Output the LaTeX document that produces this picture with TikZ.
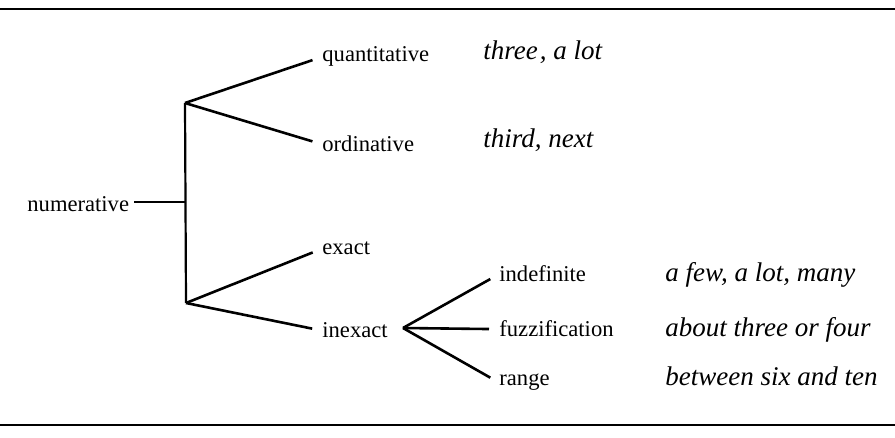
\documentclass[tikz,border=0pt]{standalone}
\usepackage{fontspec}
\setmainfont{Liberation Serif}
\usepackage{tikz}
\usetikzlibrary{positioning}

\begin{document}
\begin{tikzpicture}[
  x=0.5pt,y=-0.5pt,
  term/.style={anchor=base west,inner sep=0pt,font=\fontsize{11.3}{13}\selectfont},
  sample/.style={anchor=base west,inner sep=0pt,font=\fontsize{13.5}{16}\selectfont\itshape},
  branch/.style={draw=black,line width=1.3pt,shorten >=5pt},
  rule/.style={draw=black,line width=1.2pt}
]
\useasboundingbox (0,0) rectangle (895,438);
\draw[rule] (0,9) -- (895,9);
\draw[rule] (0,425) -- (895,425);

\node[term] (numer) at (27,212) {numerative};
\node[term] (quant) at (322,62) {quantitative};
\node[term] (ordin) at (322,152) {ordinative};
\node[term] (exact) at (322,255) {exact};
\node[term] (inexact) at (322,338) {inexact};
\node[term] (indef) at (499,282) {indefinite};
\node[term] (fuzz) at (499,337) {fuzzification};
\node[term] (range) at (499,386) {range};

\node[sample] (quantex) at (483,60) {three\kern1pt, a lot};
\node[sample] (ordinex) at (483,148) {third, next};
\node[sample] (indefex) at (665,282) {a few, a lot, many};
\node[sample] (fuzzex) at (665,337) {about three or four};
\node[sample] (rangeex) at (665,386) {between six and ten};

\coordinate (root) at (185,202);
\coordinate (upper) at (185,103);
\coordinate (lower) at (186,303);
\coordinate (split) at (403,328);

\draw[branch,line width=1.1pt,shorten >=0pt,shorten <=2.5pt] (numer.east|-root) -- (root);
\draw[branch,line width=1.1pt,shorten >=0pt] (upper) -- (lower);
\draw[branch] (upper) -- (quant.west);
\draw[branch] (upper) -- (ordin.west);
\draw[branch] (lower) -- (exact.west);
\draw[branch] (lower) -- (inexact.west);
\draw[branch] (split) -- (indef.west);
\draw[branch] (split) -- (fuzz.west);
\draw[branch] (split) -- (range.west);
\end{tikzpicture}
\end{document}
